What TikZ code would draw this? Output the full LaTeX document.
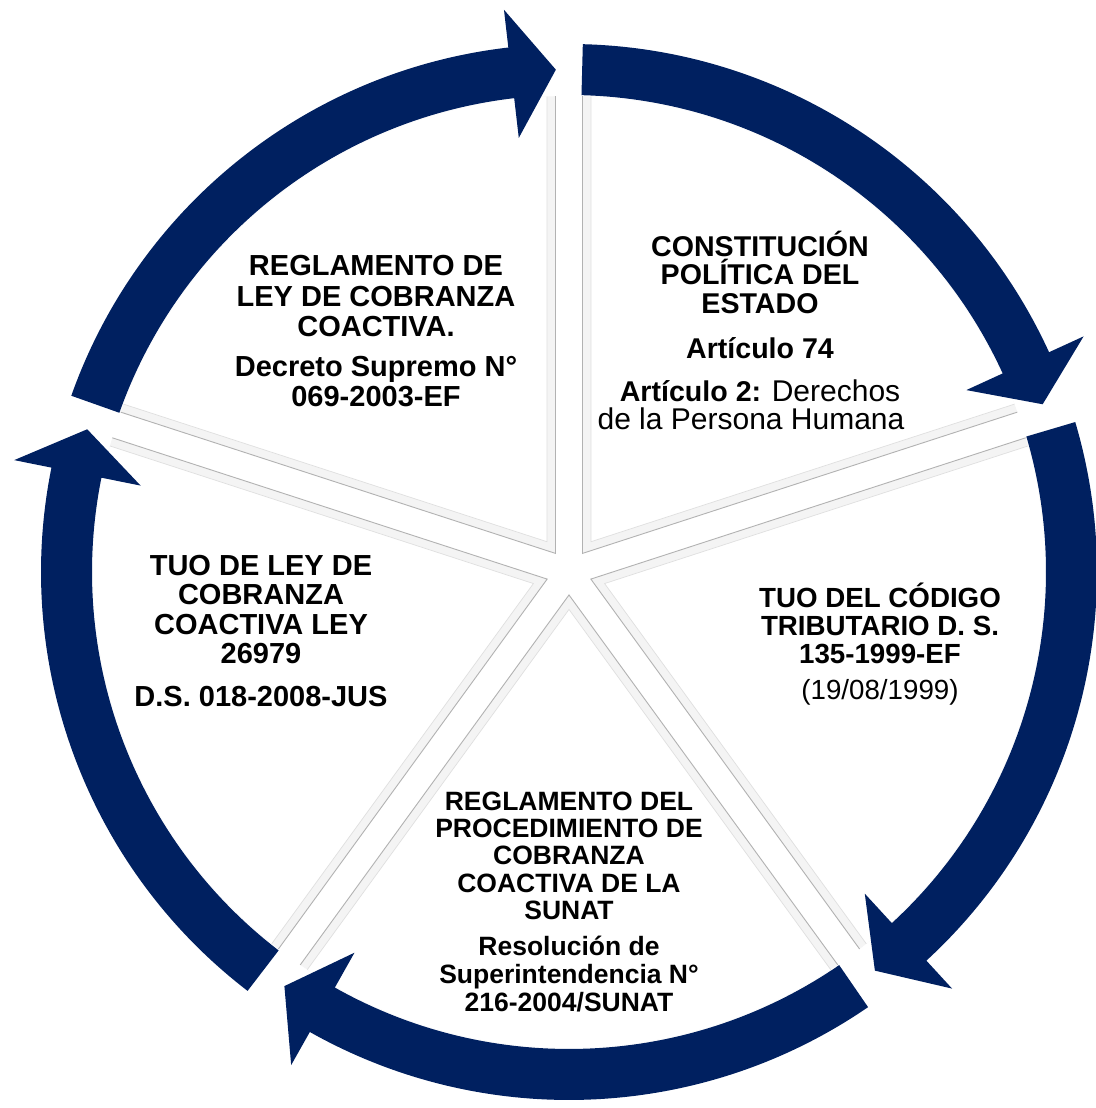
\documentclass[tikz,border=0pt]{standalone}
\usepackage{fontspec}
\setmainfont{Liberation Sans}
\usetikzlibrary{calc}
\definecolor{navy}{RGB}{0,32,96}
\begin{document}
\begin{tikzpicture}[x=1pt,y=1pt,
  txtA/.style={anchor=base, inner sep=0pt, font=\bfseries\fontsize{29}{30}\selectfont},
  txtB/.style={anchor=base, inner sep=0pt, font=\bfseries\fontsize{28.6}{30}\selectfont},
  txtC/.style={anchor=base, inner sep=0pt, font=\bfseries\fontsize{27.7}{30}\selectfont},
  txtD/.style={anchor=base, inner sep=0pt, font=\bfseries\fontsize{26.5}{28}\selectfont},
  plain/.style={font=\mdseries\fontsize{30}{30}\selectfont},
  band/.style={fill=navy},
  edgeline/.style={draw=gray!60, line width=0.9pt},
  bevelline/.style={draw=gray!25, line width=0.7pt},
]
\useasboundingbox (0,0) rectangle (1095,1108);
\fill[white] (0,0) rectangle (1095,1108);
\coordinate (C) at (569,536);
% wedges
\def\gapH{13.5}
\def\bevH{22}
\def\wR{476}
\foreach \g in {90,18,-54,-126,162}{
  \pgfmathsetmacro\gB{\g-72}
  \pgfmathsetmacro\mA{\g-36}
  \pgfmathsetmacro\dA{\gapH/sin(36)}
  \pgfmathsetmacro\dB{\bevH/sin(36)}
  \pgfmathsetmacro\eA{asin(\gapH/\wR)}
  \pgfmathsetmacro\eB{asin(\bevH/\wR)}
  \fill[gray!9] ($(C)+(\mA:\dA)$) -- ($(C)+(\g-\eA:\wR)$) arc[start angle=\g-\eA, end angle=\gB+\eA, radius=\wR] -- cycle;
  \fill[white] ($(C)+(\mA:\dB)$) -- ($(C)+(\g-\eB:\wR)$) arc[start angle=\g-\eB, end angle=\gB+\eB, radius=\wR] -- cycle;
  \draw[edgeline] ($(C)+(\g-\eA:\wR)$) -- ($(C)+(\mA:\dA)$) -- ($(C)+(\gB+\eA:\wR)$);
  \draw[bevelline] ($(C)+(\g-\eB:\wR)$) -- ($(C)+(\mA:\dB)$) -- ($(C)+(\gB+\eB:\wR)$);
}
% arrows
\def\rIn{477}
\def\rOut{528}
\def\rMid{502.5}
\foreach \g in {90,18,-54,-126,162}{
  \pgfmathsetmacro\angS{\g-1.5}
  \pgfmathsetmacro\angT{\g-72+1.5}
  \pgfmathsetmacro\angB{\angT+5.1}
  \fill[band] ($(C)+(\angS:\rOut)$) arc[start angle=\angS, end angle=\angB, radius=\rOut]
    -- ($(C)+(\angB:566)$) -- ($(C)+(\angT:\rMid)$) -- ($(C)+(\angB:437)$)
    -- ($(C)+(\angB:\rIn)$) arc[start angle=\angB, end angle=\angS, radius=\rIn] -- cycle;
}
% top-left text
\node[txtA] (tl1) at (376,832) {REGLAMENTO DE};
\node[txtA] (tl2) at (376,801) {LEY DE COBRANZA};
\node[txtA] (tl3) at (376,771) {COACTIVA.};
\node[txtA] (tl4) at (376,731) {Decreto Supremo N°};
\node[txtA] (tl5) at (376,701) {069-2003-EF};
% top-right text
\node[txtB] (tr1) at (760,851.3) {CONSTITUCIÓN};
\node[txtB] (tr2) at (760,823) {POLÍTICA DEL};
\node[txtB] (tr3) at (760,794) {ESTADO};
\node[txtB] (tr4) at (760,749.7) {Artículo 74};
\node[txtB] (tr5) at (760,706.3) {Artículo 2: {\mdseries\fontsize{30}{30}\selectfont Derechos}};
\node[txtB,plain] (tr6) at (751,678) {de la Persona Humana};
% right text
\node[txtC] (r1) at (880,500.7) {TUO DEL CÓDIGO};
\node[txtC] (r2) at (880,472) {TRIBUTARIO D. S.};
\node[txtC] (r3) at (880,444) {135-1999-EF};
\node[txtC,font=\mdseries\fontsize{27.7}{30}\selectfont] (r4) at (880,408) {(19/08/1999)};
% bottom text
\node[txtD] (b1) at (569,297.3) {REGLAMENTO DEL};
\node[txtD] (b2) at (569,270.7) {PROCEDIMIENTO DE};
\node[txtD] (b3) at (569,243) {COBRANZA};
\node[txtD] (b4) at (569,215.3) {COACTIVA DE LA};
\node[txtD] (b5) at (569,188.7) {SUNAT};
\node[txtD] (b6) at (569,152) {Resolución de};
\node[txtD] (b7) at (569,124.7) {Superintendencia N°};
\node[txtD] (b8) at (569,96.3) {216-2004/SUNAT};
% left text
\node[txtA] (l1) at (261,532) {TUO DE LEY DE};
\node[txtA] (l2) at (261,503) {COBRANZA};
\node[txtA] (l3) at (261,473.7) {COACTIVA LEY};
\node[txtA] (l4) at (261,444.7) {26979};
\node[txtA] (l5) at (261,401.3) {D.S. 018-2008-JUS};
\end{tikzpicture}
\end{document}
